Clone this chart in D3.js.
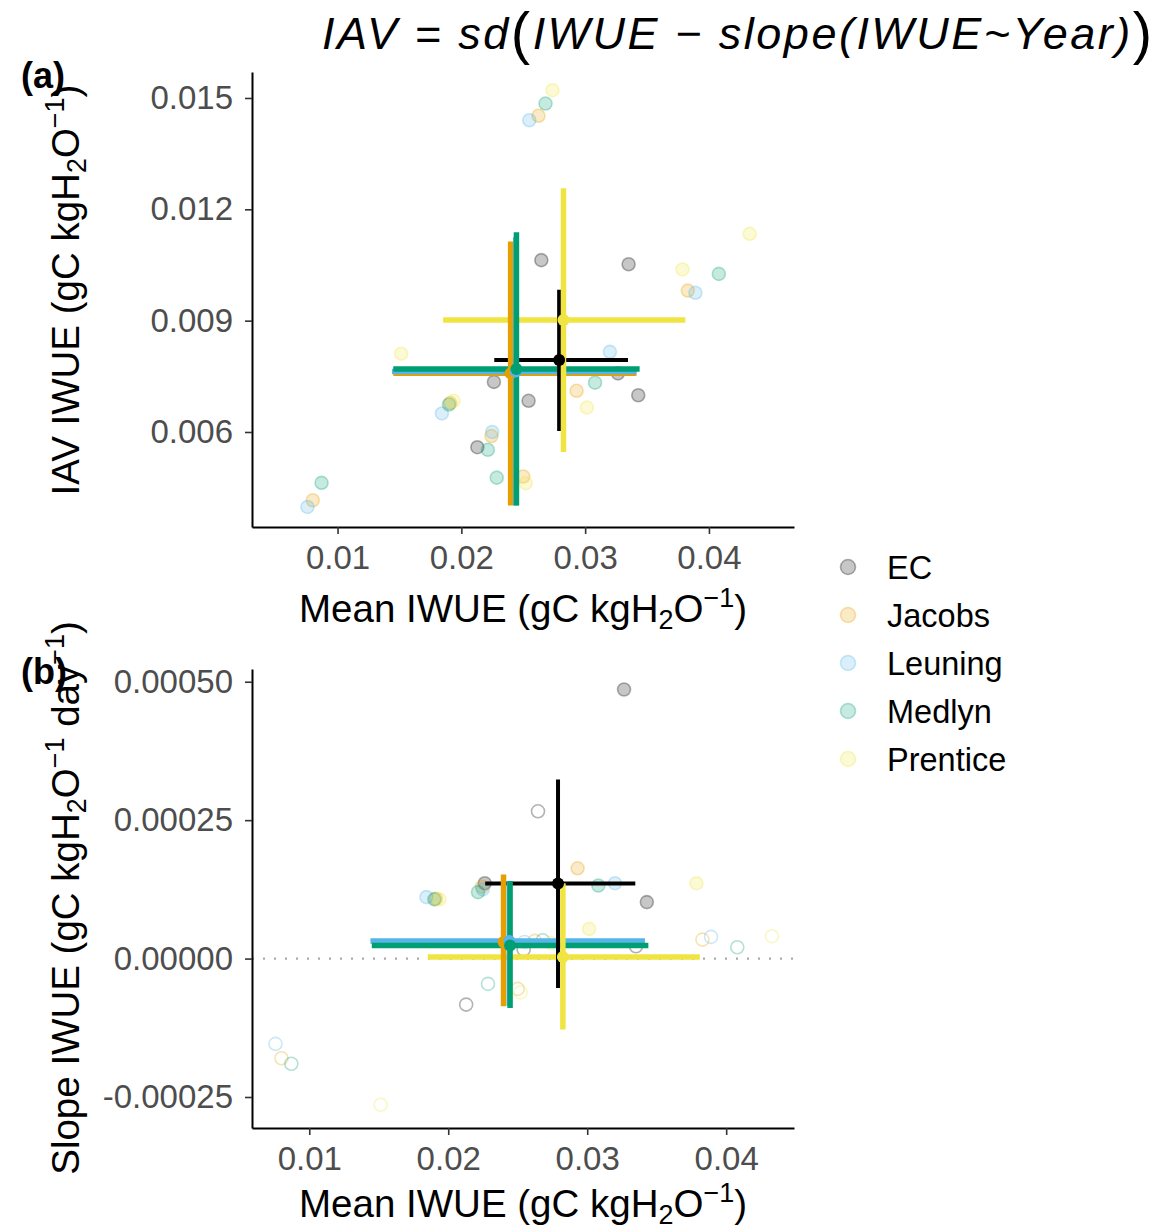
<!DOCTYPE html>
<html>
<head>
<meta charset="utf-8">
<script src="https://cdn.jsdelivr.net/npm/d3@7"></script>
<style>
  body { margin: 0; background: #ffffff; }
  svg text { font-family: "Liberation Sans", Arial, Helvetica, sans-serif; }
</style>
</head>
<body>
<svg id="chart" width="1173" height="1231"></svg>
<script>
// ---- series ----
const seriesNames  = ["EC", "Jacobs", "Leuning", "Medlyn", "Prentice"];
const seriesColors = ["#000000", "#E69F00", "#56B4E9", "#009E73", "#F0E442"];

// ---- site values per series: mean IWUE, IAV of IWUE, trend slope, slope significant ----
const ecMean     = [0.02646, 0.03351, 0.02263, 0.03429, 0.02543, 0.02129, 0.03265];
const ecIav      = [0.01063, 0.01052, 0.00735, 0.00699, 0.00684, 0.00559, 0.00758];
const ecSlope    = [0.000266, 0.0000223, 0.000136, 0.000102, 0.0000163, -0.0000831, 0.000486];
const ecSig      = [0, 0, 1, 1, 0, 0, 1];

const jacobsMean  = [0.00800, 0.01910, 0.02243, 0.02500, 0.02623, 0.02931, 0.03829];
const jacobsIav   = [0.00416, 0.00678, 0.00589, 0.00480, 0.01452, 0.00711, 0.00981];
const jacobsSlope = [-0.000180, 0.000108, 0.000130, -0.0000548, 0.000032, 0.000163, 0.0000343];
const jacobsSig   = [0, 1, 1, 0, 0, 1, 0];

const leuningMean  = [0.00757, 0.01843, 0.02249, 0.02549, 0.03200, 0.03891];
const leuningIav   = [0.00398, 0.00650, 0.00600, 0.01440, 0.00816, 0.00975];
const leuningSlope = [-0.000154, 0.000111, 0.000125, 0.000030, 0.000136, 0.0000392];
const leuningSig   = [0, 1, 1, 0, 1, 0];

const medlynMean  = [0.00871, 0.01900, 0.02214, 0.02286, 0.02680, 0.03080, 0.04080];
const medlynIav   = [0.00463, 0.00674, 0.00552, 0.00477, 0.01485, 0.00733, 0.01026];
const medlynSlope = [-0.000190, 0.000107, 0.000120, -0.0000457, 0.000033, 0.000132, 0.0000205];
const medlynSig   = [0, 1, 1, 0, 0, 1, 0];

const prenticeMean  = [0.01514, 0.01937, 0.02520, 0.02737, 0.03014, 0.03786, 0.04329];
const prenticeIav   = [0.00811, 0.00684, 0.00462, 0.01521, 0.00666, 0.01038, 0.01134];
const prenticeSlope = [-0.000264, 0.000107, -0.000061, 0.000028, 0.0000536, 0.000136, 0.0000404];
const prenticeSig   = [0, 1, 0, 0, 1, 1, 0];

// ---- series summaries (centre and spread), order as seriesNames ----
const sumMean     = [0.02790, 0.02398, 0.02440, 0.02445, 0.02825];
const sumMeanLo   = [0.02266, 0.01451, 0.01440, 0.01450, 0.01853];
const sumMeanHi   = [0.03346, 0.03414, 0.03415, 0.03440, 0.03810];
const sumIav      = [0.00794, 0.00758, 0.00763, 0.00770, 0.00902];
const sumIavLo    = [0.00603, 0.00402, 0.00402, 0.00402, 0.00546];
const sumIavHi    = [0.00983, 0.01113, 0.01125, 0.01138, 0.01257];
const sumSlope    = [0.0001355, 0.000030, 0.0000316, 0.0000235, 0.0000030];
const sumSlopeLo  = [-0.000053, -0.0000861, -0.000085, -0.0000892, -0.000128];
const sumSlopeHi  = [0.0003235, 0.000152, 0.000140, 0.000140, 0.000136];

// ---- ticks ----
const meanTicks  = [0.01, 0.02, 0.03, 0.04];
const iavTicks   = [0.006, 0.009, 0.012, 0.015];
const slopeTicks = [-0.00025, 0, 0.00025, 0.0005];

// ---- assemble ----
const siteCols = [
  [ecMean, ecIav, ecSlope, ecSig],
  [jacobsMean, jacobsIav, jacobsSlope, jacobsSig],
  [leuningMean, leuningIav, leuningSlope, leuningSig],
  [medlynMean, medlynIav, medlynSlope, medlynSig],
  [prenticeMean, prenticeIav, prenticeSlope, prenticeSig]
];
const sites = [];
siteCols.forEach((cols, si) => {
  cols[0].forEach((m, i) => sites.push({
    s: si, mean: m, iav: cols[1][i], slope: cols[2][i], sig: cols[3][i]
  }));
});
const summaries = seriesNames.map((n, i) => ({
  s: i, mean: sumMean[i], meanLo: sumMeanLo[i], meanHi: sumMeanHi[i],
  iav: sumIav[i], iavLo: sumIavLo[i], iavHi: sumIavHi[i],
  slope: sumSlope[i], slopeLo: sumSlopeLo[i], slopeHi: sumSlopeHi[i]
}));

const svg = d3.select("#chart");
const color = d3.scaleOrdinal().domain(d3.range(5)).range(seriesColors);

const L = 252, R = 794;
const panels = [
  { key: "iav",   top: 72,  bottom: 527, yTitleMid: 290,
    x: d3.scaleLinear().domain([0.00309, 0.04687]).range([L, R]),
    y: d3.scaleLinear().domain([0.00344, 0.0157]).range([527, 72]),
    yTicks: iavTicks, yFmt: d3.format(".3f"), label: "(a)", labelY: 88,
    yTitle: ["IAV IWUE (gC kgH", "2", "O", "\u22121", ")"], titleY: 622 },
  { key: "slope", top: 669, bottom: 1128, yTitleMid: 898,
    x: d3.scaleLinear().domain([0.00588, 0.04488]).range([L, R]),
    y: d3.scaleLinear().domain([-0.000306, 0.000523]).range([1128, 669]),
    yTicks: slopeTicks, yFmt: v => d3.format(".5f")(v).replace("\u2212", "-"),
    label: "(b)", labelY: 684,
    yTitle: ["Slope IWUE (gC kgH", "2", "O", "\u22121", " day", "\u22121", ")"], titleY: 1217 }
];

const TICK_FS = 33, TITLE_FS = 38.5;

function styleAxis(g) {
  g.select(".domain").attr("stroke", "#000").attr("stroke-width", 2);
  g.selectAll(".tick line").attr("stroke", "#333").attr("stroke-width", 1.6);
  g.selectAll(".tick text").attr("fill", "#4D4D4D").attr("font-size", TICK_FS)
    .attr("font-family", "Liberation Sans, Arial, sans-serif");
}

// axis title with subscript "2" and superscript "-1" pieces
function richTitle(t, parts, fs) {
  const sub = 7, sup = 15;
  t.append("tspan").text(parts[0]);
  t.append("tspan").attr("font-size", fs * 0.7).attr("dy", sub).text(parts[1]);
  t.append("tspan").attr("dy", -sub).text(parts[2]);
  t.append("tspan").attr("font-size", fs * 0.7).attr("dy", -sup).text(parts[3]);
  t.append("tspan").attr("dy", sup).text(parts[4]);
  if (parts.length > 5) {
    t.append("tspan").attr("font-size", fs * 0.7).attr("dy", -sup).text(parts[5]);
    t.append("tspan").attr("dy", sup).text(parts[6]);
  }
}

panels.forEach(p => {
  const g = svg.append("g");

  if (p.key === "slope") {
    g.append("line")
      .attr("x1", L).attr("x2", R)
      .attr("y1", p.y(0)).attr("y2", p.y(0))
      .attr("stroke", "#aaaaaa").attr("stroke-width", 2.2)
      .attr("stroke-dasharray", "2,9");
  }

  // site points
  const yKey = p.key;
  g.append("g").selectAll("circle").data(sites).join("circle")
    .attr("cx", d => p.x(d.mean))
    .attr("cy", d => p.y(d[yKey]))
    .attr("r", 6.5)
    .attr("fill", d => (p.key === "iav" || d.sig) ? color(d.s) : "none")
    .attr("fill-opacity", 0.22)
    .attr("stroke", d => color(d.s))
    .attr("stroke-opacity", 0.3)
    .attr("stroke-width", 1.6);

  const lo = p.key + "Lo", hi = p.key + "Hi";
  const lw = d => d.s === 0 ? 4 : 5.5;
  // horizontal spread
  g.append("g").selectAll("line").data(summaries).join("line")
    .attr("x1", d => p.x(d.meanLo)).attr("x2", d => p.x(d.meanHi))
    .attr("y1", d => p.y(d[yKey])).attr("y2", d => p.y(d[yKey]))
    .attr("stroke", d => color(d.s)).attr("stroke-width", lw);
  // vertical spread
  g.append("g").selectAll("line").data(summaries).join("line")
    .attr("x1", d => p.x(d.mean)).attr("x2", d => p.x(d.mean))
    .attr("y1", d => p.y(d[lo])).attr("y2", d => p.y(d[hi]))
    .attr("stroke", d => color(d.s)).attr("stroke-width", lw);
  // centres
  g.append("g").selectAll("circle").data(summaries).join("circle")
    .attr("cx", d => p.x(d.mean)).attr("cy", d => p.y(d[yKey]))
    .attr("r", 6).attr("fill", d => color(d.s));

  // axes
  const ax = svg.append("g").attr("transform", `translate(0,${p.bottom})`)
    .call(d3.axisBottom(p.x).tickValues(meanTicks).tickFormat(d3.format(".2f"))
      .tickSize(7).tickSizeOuter(0).tickPadding(5));
  styleAxis(ax);
  ax.selectAll(".tick text").attr("dy", "0.92em");
  const ay = svg.append("g").attr("transform", `translate(${L},0)`)
    .call(d3.axisLeft(p.y).tickValues(p.yTicks).tickFormat(p.yFmt)
      .tickSize(7).tickSizeOuter(0).tickPadding(12));
  styleAxis(ay);

  // axis titles
  const xt = svg.append("text").attr("x", (L + R) / 2).attr("y", p.titleY)
    .attr("text-anchor", "middle").attr("font-size", TITLE_FS).attr("fill", "#000");
  richTitle(xt, ["Mean IWUE (gC kgH", "2", "O", "\u22121", ")"], TITLE_FS);

  const yt = svg.append("text")
    .attr("transform", `translate(79,${p.yTitleMid}) rotate(-90)`)
    .attr("text-anchor", "middle").attr("font-size", TITLE_FS).attr("fill", "#000");
  richTitle(yt, p.yTitle, TITLE_FS);

  // panel tag
  svg.append("text").attr("x", 21).attr("y", p.labelY)
    .attr("font-size", 36).attr("font-weight", "bold").attr("fill", "#000")
    .text(p.label);
});

// ---- legend ----
const leg = svg.append("g");
seriesNames.forEach((n, i) => {
  const cy = 567 + i * 48;
  leg.append("circle").attr("cx", 848).attr("cy", cy).attr("r", 7.5)
    .attr("fill", seriesColors[i]).attr("fill-opacity", 0.22)
    .attr("stroke", seriesColors[i]).attr("stroke-opacity", 0.3).attr("stroke-width", 1.6);
  leg.append("text").attr("x", 887).attr("y", cy + 11.5)
    .attr("font-size", 32.5).attr("fill", "#000").text(n);
});

// ---- formula heading ----
const ft = svg.append("text").attr("x", 322).attr("y", 49)
  .attr("font-family", "'DejaVu Serif', 'Liberation Serif', serif")
  .attr("font-style", "italic").attr("font-size", 45).attr("fill", "#000");
ft.append("tspan").text("IAV = sd");
ft.append("tspan").attr("font-size", 58).attr("dy", 4).attr("font-style", "normal").text("(");
ft.append("tspan").attr("dy", -4).text("IWUE \u2212 slope(IWUE~Year)");
ft.append("tspan").attr("font-size", 58).attr("dy", 4).attr("font-style", "normal").text(")");
const fLen = ft.node().getComputedTextLength();
const fChars = ft.text().length;
ft.attr("letter-spacing", (830 - fLen) / (fChars - 1));
</script>
</body>
</html>
